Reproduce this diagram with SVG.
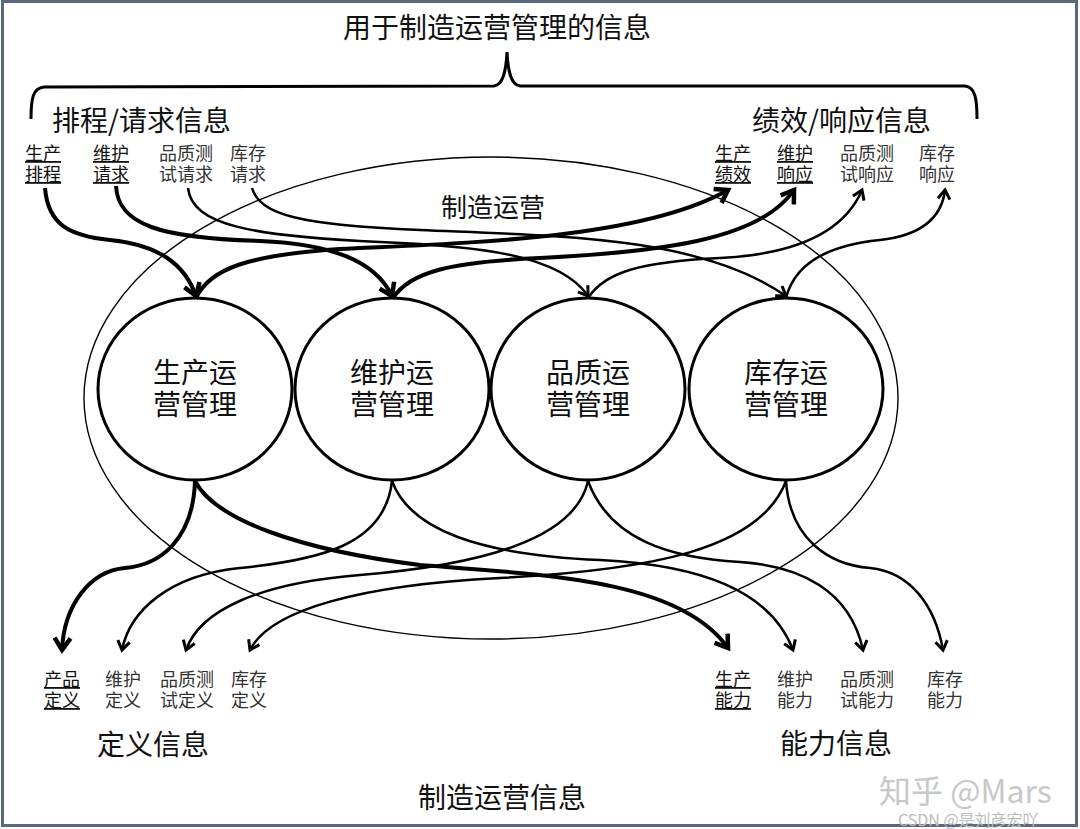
<svg xmlns="http://www.w3.org/2000/svg" width="1080" height="829" viewBox="0 0 1080 829">
<style>
text{font-family:"Noto Sans CJK SC","Liberation Sans",sans-serif;fill:#111}
.h{font-size:28px}
.c{font-size:28px;text-anchor:middle}
.l{font-size:18px;text-anchor:middle;fill:#333}
.u{fill:#111;text-decoration:underline}
.node{fill:none;stroke:#000;stroke-width:3}
.thk{fill:none;stroke:#000;stroke-width:4}
.med{fill:none;stroke:#000;stroke-width:2.5}
</style>
<defs>
<marker id="ab" markerUnits="userSpaceOnUse" markerWidth="30" markerHeight="30" viewBox="-15 -15 30 30" refX="0" refY="0" orient="auto">
<path d="M-12,-8 L0,0 L-12,8" fill="none" stroke="#000" stroke-width="4.5"/>
</marker>
<marker id="as" markerUnits="userSpaceOnUse" markerWidth="24" markerHeight="24" viewBox="-12 -12 24 24" refX="0" refY="0" orient="auto">
<path d="M-9,-6 L0,0 L-9,6" fill="none" stroke="#000" stroke-width="3"/>
</marker>
</defs>
<rect x="0" y="0" width="1080" height="829" fill="#fff"/>
<rect x="2.5" y="1.5" width="1074" height="824" fill="none" stroke="#5a6a7e" stroke-width="3"/>

<g id="title">
<text class="c" x="497" y="38">用于制造运营管理的信息</text>
<path d="M31,119 C31,98 33,88 44,87 L494,86 C503,85 506,72 507,52 C508,72 511,85 520,86 L965,86 C975,87 977,98 977,119" fill="none" stroke="#000" stroke-width="3"/>
</g>

<g id="header-request"><text class="h" x="52" y="131">排程/请求信息</text></g>
<g id="header-response"><text class="h" x="752" y="131">绩效/响应信息</text></g>
<g id="header-definition"><text class="c" x="153" y="755">定义信息</text></g>
<g id="header-capability"><text class="c" x="836" y="754">能力信息</text></g>
<g id="footer"><text class="c" x="502" y="808">制造运营信息</text></g>

<g id="mfg-ops">
<ellipse cx="491" cy="398" rx="407" ry="241" fill="none" stroke="#000" stroke-width="1.4"/>
<text class="c" x="493" y="217" style="font-size:26px">制造运营</text>
</g>

<g id="req-production"><text class="l u" x="43" y="160">生产</text><text class="l u" x="43" y="181">排程</text></g>
<g id="req-maintenance"><text class="l u" x="111" y="160">维护</text><text class="l u" x="111" y="181">请求</text></g>
<g id="req-quality"><text class="l" x="186" y="160">品质测</text><text class="l" x="186" y="181">试请求</text></g>
<g id="req-inventory"><text class="l" x="248" y="160">库存</text><text class="l" x="248" y="181">请求</text></g>

<g id="resp-production"><text class="l u" x="733" y="160">生产</text><text class="l u" x="733" y="181">绩效</text></g>
<g id="resp-maintenance"><text class="l u" x="795" y="160">维护</text><text class="l u" x="795" y="181">响应</text></g>
<g id="resp-quality"><text class="l" x="867" y="160">品质测</text><text class="l" x="867" y="181">试响应</text></g>
<g id="resp-inventory"><text class="l" x="937" y="160">库存</text><text class="l" x="937" y="181">响应</text></g>

<g id="def-product"><text class="l u" x="62" y="686">产品</text><text class="l u" x="62" y="707">定义</text></g>
<g id="def-maintenance"><text class="l" x="123" y="686">维护</text><text class="l" x="123" y="707">定义</text></g>
<g id="def-quality"><text class="l" x="187" y="686">品质测</text><text class="l" x="187" y="707">试定义</text></g>
<g id="def-inventory"><text class="l" x="249" y="686">库存</text><text class="l" x="249" y="707">定义</text></g>

<g id="cap-production"><text class="l u" x="733" y="686">生产</text><text class="l u" x="733" y="707">能力</text></g>
<g id="cap-maintenance"><text class="l" x="795" y="686">维护</text><text class="l" x="795" y="707">能力</text></g>
<g id="cap-quality"><text class="l" x="867" y="686">品质测</text><text class="l" x="867" y="707">试能力</text></g>
<g id="cap-inventory"><text class="l" x="945" y="686">库存</text><text class="l" x="945" y="707">能力</text></g>

<g id="op-production"><ellipse class="node" cx="195" cy="389" rx="97" ry="91"/><text class="c" x="195" y="383">生产运</text><text class="c" x="195" y="415">营管理</text></g>
<g id="op-maintenance"><ellipse class="node" cx="392" cy="389" rx="97" ry="91"/><text class="c" x="392" y="383">维护运</text><text class="c" x="392" y="415">营管理</text></g>
<g id="op-quality"><ellipse class="node" cx="588" cy="389" rx="97" ry="91"/><text class="c" x="588" y="383">品质运</text><text class="c" x="588" y="415">营管理</text></g>
<g id="op-inventory"><ellipse class="node" cx="786" cy="389" rx="97" ry="91"/><text class="c" x="786" y="383">库存运</text><text class="c" x="786" y="415">营管理</text></g>

<g id="connectors">
<path class="thk" marker-end="url(#ab)" d="M45,188 C48,225 70,236 110,240 C160,245 185,265 196,296"/>
<path class="thk" marker-end="url(#ab)" d="M196,298 C210,268 250,255 340,249 C460,243 640,240 728,190"/>
<path class="thk" marker-end="url(#ab)" d="M116,186 C118,225 160,238 260,241 C330,244 375,260 392,296"/>
<path class="thk" marker-end="url(#ab)" d="M393,298 C410,272 450,262 540,258 C660,252 760,240 794,190"/>
<path class="med" marker-end="url(#as)" d="M188,188 C192,225 250,236 380,242 C480,246 560,255 588,296"/>
<path class="med" marker-end="url(#as)" d="M588,298 C605,272 640,262 720,258 C800,254 845,230 862,190"/>
<path class="med" marker-end="url(#as)" d="M252,188 C260,215 300,225 420,230 C560,236 700,236 786,296"/>
<path class="med" marker-end="url(#as)" d="M786,298 C795,262 830,245 880,240 C925,235 942,215 945,190"/>

<path class="thk" marker-end="url(#ab)" d="M195,481 C193,540 160,565 125,568 C90,571 64,605 62,650"/>
<path class="thk" marker-end="url(#ab)" d="M195,481 C215,520 300,550 420,565 C550,575 680,580 728,648"/>
<path class="med" marker-end="url(#as)" d="M392,481 C385,545 320,560 240,568 C170,575 130,610 122,650"/>
<path class="med" marker-end="url(#as)" d="M392,481 C410,530 480,555 600,560 C700,565 770,590 793,650"/>
<path class="med" marker-end="url(#as)" d="M588,481 C575,540 480,565 360,575 C260,583 200,610 186,650"/>
<path class="med" marker-end="url(#as)" d="M588,481 C610,540 670,558 740,562 C800,566 850,590 863,650"/>
<path class="med" marker-end="url(#as)" d="M786,481 C760,550 650,570 500,578 C360,585 270,610 250,650"/>
<path class="med" marker-end="url(#as)" d="M786,481 C790,540 830,565 870,568 C910,572 935,605 943,650"/>
</g>

<g id="watermark">
<text x="879" y="803" style="font-size:32px;fill:#c8c8c8">知乎 @Mars</text>
<text x="898" y="826" style="font-size:16px;fill:#bbbbbb">CSDN @是刘彦宏吖</text>
</g>
</svg>
